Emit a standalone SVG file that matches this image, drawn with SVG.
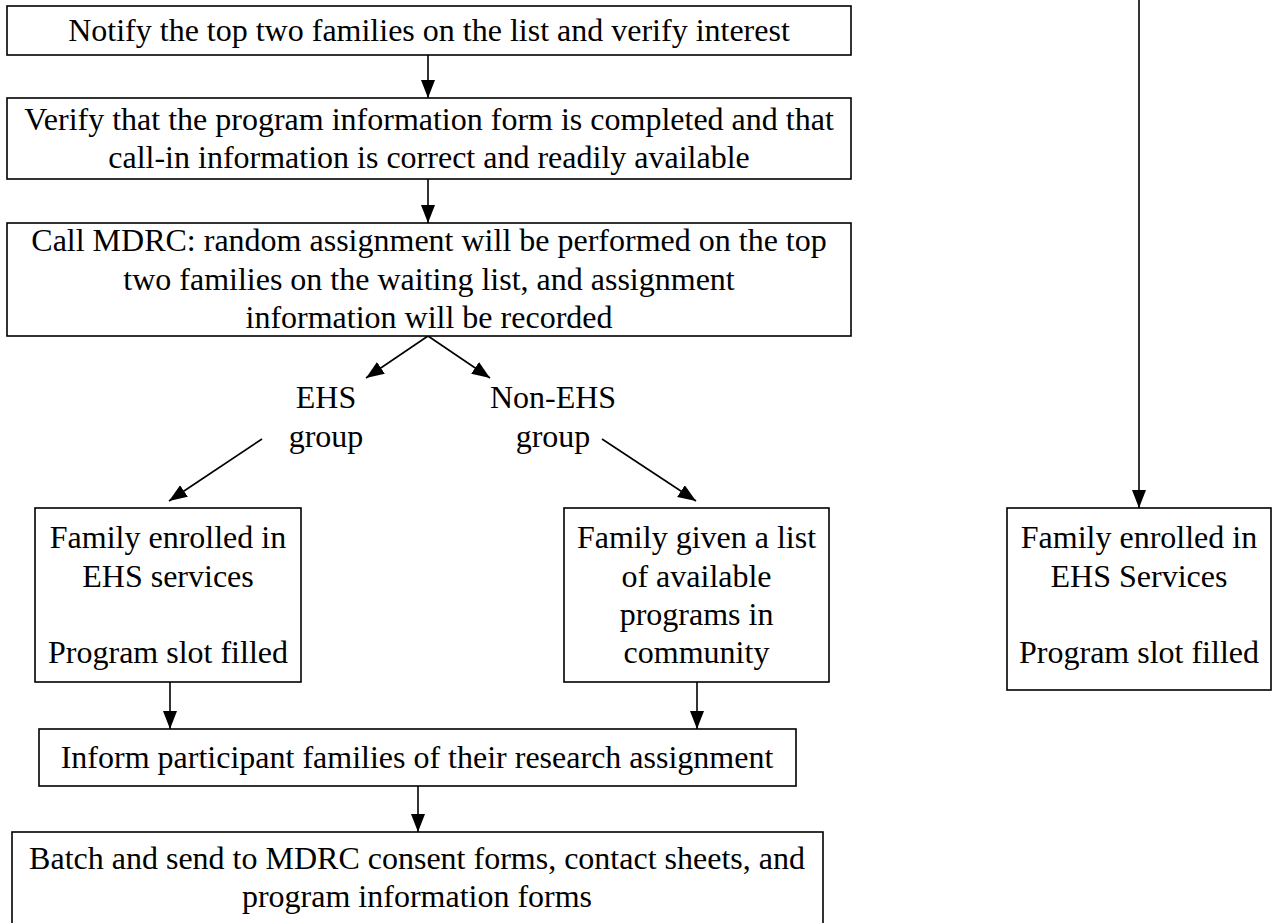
<svg xmlns="http://www.w3.org/2000/svg" width="1281" height="923" viewBox="0 0 1281 923">
<style>
.box{fill:#fff;stroke:#000;stroke-width:1.6}
.t{font-family:"Liberation Serif","Times New Roman",serif;font-size:32px;fill:#000;text-anchor:middle}
.c{fill:none;stroke:#000;stroke-width:1.6}
</style>
<defs>
<marker id="ah" markerUnits="userSpaceOnUse" markerWidth="19" markerHeight="15" refX="18" refY="7" orient="auto">
<path d="M0,0 L18,7 L0,14 z" fill="#000"/>
</marker>
</defs>
<rect width="1281" height="923" fill="#fff"/>
<g id="connectors">
<line class="c" x1="428" y1="55" x2="428" y2="98" marker-end="url(#ah)"/>
<line class="c" x1="428" y1="179" x2="428" y2="223" marker-end="url(#ah)"/>
<line class="c" x1="428" y1="336" x2="366" y2="378" marker-end="url(#ah)"/>
<line class="c" x1="428" y1="336" x2="490" y2="378" marker-end="url(#ah)"/>
<line class="c" x1="262" y1="439" x2="169" y2="501" marker-end="url(#ah)"/>
<line class="c" x1="602" y1="439" x2="696" y2="501" marker-end="url(#ah)"/>
<line class="c" x1="1139" y1="0" x2="1139" y2="508" marker-end="url(#ah)"/>
<line class="c" x1="170" y1="682" x2="170" y2="729" marker-end="url(#ah)"/>
<line class="c" x1="697" y1="682" x2="697" y2="729" marker-end="url(#ah)"/>
<line class="c" x1="418" y1="786" x2="418" y2="832" marker-end="url(#ah)"/>
</g>
<g id="notify">
<rect class="box" x="7" y="6" width="844" height="49"/>
<text class="t" x="429" y="41">Notify the top two families on the list and verify interest</text>
</g>
<g id="verify">
<rect class="box" x="7" y="98" width="844" height="81"/>
<text class="t" x="429" y="130">Verify that the program information form is completed and that</text>
<text class="t" x="429" y="168">call-in information is correct and readily available</text>
</g>
<g id="call">
<rect class="box" x="7" y="223" width="844" height="113"/>
<text class="t" x="429" y="251">Call MDRC: random assignment will be performed on the top</text>
<text class="t" x="429" y="290">two families on the waiting list, and assignment</text>
<text class="t" x="429" y="328">information will be recorded</text>
</g>
<g id="ehs-label">
<text class="t" x="326" y="408">EHS</text>
<text class="t" x="326" y="447">group</text>
</g>
<g id="nonehs-label">
<text class="t" x="553" y="408">Non-EHS</text>
<text class="t" x="553" y="447">group</text>
</g>
<g id="enrolled">
<rect class="box" x="35" y="508" width="266" height="174"/>
<text class="t" x="168" y="548">Family enrolled in</text>
<text class="t" x="168" y="587">EHS services</text>
<text class="t" x="168" y="663">Program slot filled</text>
</g>
<g id="given-list">
<rect class="box" x="564" y="508" width="265" height="174"/>
<text class="t" x="696.5" y="548">Family given a list</text>
<text class="t" x="696.5" y="587">of available</text>
<text class="t" x="696.5" y="625">programs in</text>
<text class="t" x="696.5" y="663">community</text>
</g>
<g id="enrolled-right">
<rect class="box" x="1007" y="508" width="264" height="182"/>
<text class="t" x="1139" y="548">Family enrolled in</text>
<text class="t" x="1139" y="587">EHS Services</text>
<text class="t" x="1139" y="663">Program slot filled</text>
</g>
<g id="inform">
<rect class="box" x="39" y="729" width="757" height="57"/>
<text class="t" x="417" y="768">Inform participant families of their research assignment</text>
</g>
<g id="batch">
<rect class="box" x="12" y="832" width="811" height="100"/>
<text class="t" x="417" y="869">Batch and send to MDRC consent forms, contact sheets, and</text>
<text class="t" x="417" y="907">program information forms</text>
</g>
</svg>
